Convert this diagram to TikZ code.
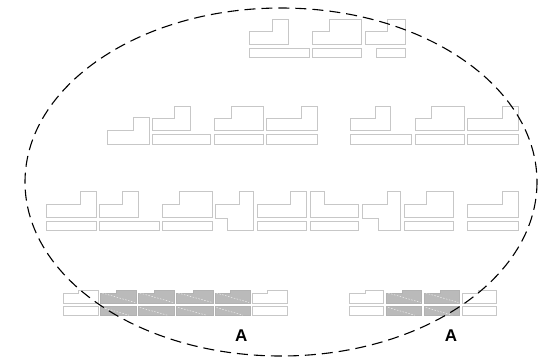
\documentclass[tikz,border=0pt]{standalone}
\usepackage{fontspec}
\setsansfont{Liberation Sans}
\newcommand\LLsh[6]{\draw[shp] (#1,#6) -- (#1,#5) -- (#2,#5) -- (#2,#4) -- (#3,#4) -- (#3,#6) -- cycle;}
\newcommand\BRsh[4]{\draw[shp] (#1,#3) rectangle (#2,#4);}
\newcommand\NBsh[4]{\draw[#4] (#1,303.3) -- (#1,293.5) -- (#2,293.5) -- (#2,290) -- (#3,290) -- (#3,303.3) -- cycle;}
\newcommand\GBsh[3]{%
  \NBsh{#1}{#2}{#3}{gshp}
  \draw[gshp] (#1,306.7) rectangle (#3,315.7);
  \draw[wdash] (#1+1.5,293) -- (#3-1,302.5);
  \draw[wdash] (#1+1.5,307.5) -- (#3-7,315.2);}
\newcommand\WBsh[3]{%
  \NBsh{#1}{#2}{#3}{shp}
  \draw[shp] (#1,306.7) rectangle (#3,315.7);}
\begin{document}
\begin{tikzpicture}[x=1pt,y=-1pt,
  shp/.style={draw=black!22,line width=0.9pt,fill=white},
  gshp/.style={draw=black!30,line width=0.9pt,fill=black!27},
  wdash/.style={draw=white,line width=0.5pt,dash pattern=on 1.5pt off 1.5pt,opacity=0.8},
  lbl/.style={font=\sffamily\bfseries\fontsize{17}{20}\selectfont,inner sep=0pt},
  outline/.style={draw=black,line width=1.1pt,dash pattern=on 11pt off 6pt}]
\useasboundingbox (0,0) rectangle (547,360);
\fill[white] (0,0) rectangle (547,360);

% row 1
\LLsh{249.3}{272.3}{288.3}{19.3}{31.7}{44.3}
\BRsh{249.3}{309}{48.3}{57.7}
\LLsh{312.3}{329.3}{361}{19.3}{31.7}{44.3}
\BRsh{312.3}{361}{48.3}{57.7}
\LLsh{365}{387.7}{405.7}{19.3}{31.7}{44.3}
\BRsh{376.7}{405.7}{48.3}{57.7}

% row 2
\LLsh{107.3}{133.3}{149}{117.7}{130.5}{144.3}
\LLsh{152.3}{174}{190.7}{106}{118}{130.7}
\BRsh{152.3}{210}{134.3}{144.3}
\LLsh{214.3}{231}{263.3}{106}{118}{130.7}
\BRsh{214.3}{263.3}{134.3}{144.3}
\LLsh{266.7}{301}{317.3}{106}{118}{130.7}
\BRsh{266.7}{317.3}{134.3}{144.3}
\LLsh{350.7}{375}{390.7}{106}{118}{130.7}
\BRsh{350.7}{411}{134.3}{144.3}
\LLsh{415}{431.7}{464}{106}{118}{130.7}
\BRsh{415}{464}{134.3}{144.3}
\LLsh{467.7}{502}{518.7}{106}{118}{130.7}
\BRsh{467.7}{518.7}{134.3}{144.3}

% row 3
\LLsh{46}{80.7}{96}{191}{204.5}{217}
\BRsh{46}{96}{221}{230.3}
\LLsh{99.3}{122.3}{138.3}{191}{204.5}{217}
\BRsh{99.3}{159.3}{221}{230.3}
\LLsh{162.7}{179.3}{212.3}{191}{204.5}{217}
\BRsh{162.7}{212.3}{221}{230.3}
\draw[shp] (215.7,204.5) -- (239,204.5) -- (239,191) -- (253.3,191) -- (253.3,230.3) -- (227.7,230.3) -- (227.7,218.3) -- (215.7,218.3) -- cycle;
\LLsh{257.3}{290.7}{306}{191}{204.5}{217}
\BRsh{257.3}{306}{221}{230.3}
\draw[shp] (310,191) -- (324,191) -- (324,204.5) -- (358.3,204.5) -- (358.3,217) -- (310,217) -- cycle;
\BRsh{310}{358.3}{221}{230.3}
\draw[shp] (362.3,204.5) -- (387.3,204.5) -- (387.3,191) -- (400,191) -- (400,230.3) -- (378.3,230.3) -- (378.3,218.3) -- (362.3,218.3) -- cycle;
\LLsh{404}{426.7}{453.3}{191}{204.5}{217}
\BRsh{404}{453.3}{221}{230.3}
\LLsh{467.3}{502}{518.7}{191}{204.5}{217}
\BRsh{467.3}{518.7}{221}{230.3}

% row 4 left group
\WBsh{63.3}{78.5}{98.3}
\GBsh{100.7}{116.7}{136}
\GBsh{138.3}{154.5}{174.3}
\GBsh{176.7}{193}{213.3}
\GBsh{215}{230.8}{250}
\WBsh{252.3}{267}{287.3}
% row 4 right group
\WBsh{349}{365}{383.3}
\GBsh{386.7}{402.5}{421.7}
\GBsh{424.3}{440}{459.3}
\WBsh{462.3}{478.3}{496.7}

\node[lbl] (labelA1) at (241.3,335.5) {A};
\node[lbl] (labelA2) at (451,335.5) {A};

\draw[outline] (281,182) ellipse [x radius=256, y radius=174];
\end{tikzpicture}
\end{document}
